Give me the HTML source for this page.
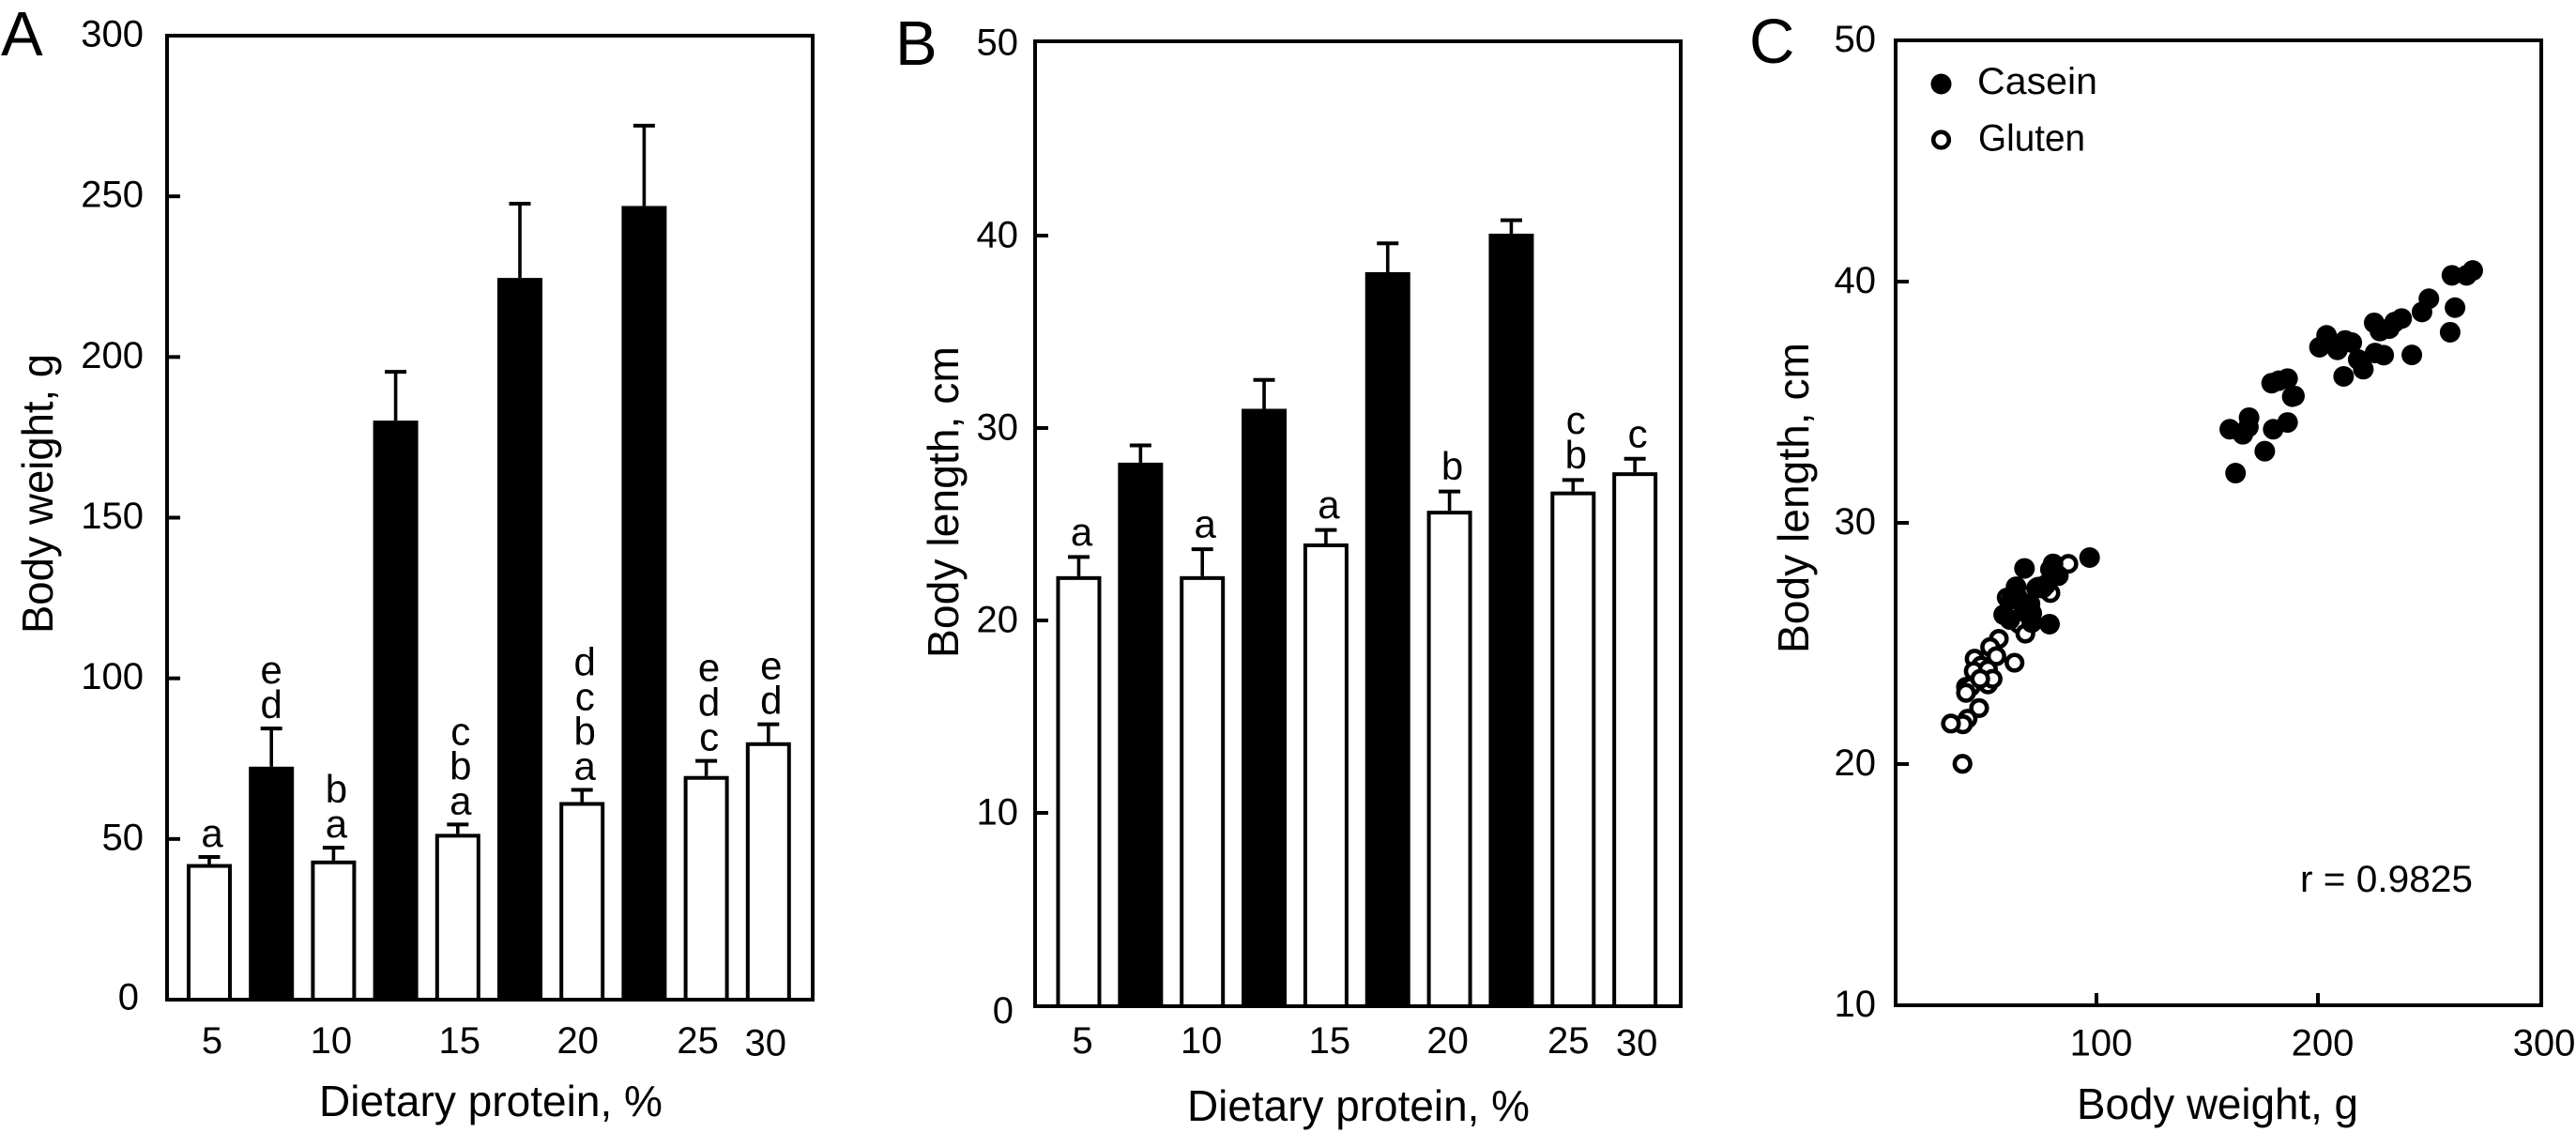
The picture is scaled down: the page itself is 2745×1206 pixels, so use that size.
<!DOCTYPE html>
<html lang="en">
<head>
<meta charset="utf-8">
<title>Body weight and body length by dietary protein</title>
<style>
  html, body { margin: 0; padding: 0; background: #fff; }
  svg { display: block; }
  text { font-family: "Liberation Sans", sans-serif; fill: #000; }
  .tick { font-size: 40px; }
  .title { font-size: 46px; }
  .panel { font-size: 67px; }
  .sig { font-size: 42px; text-anchor: middle; }
</style>
</head>
<body>
<svg id="figure" xmlns="http://www.w3.org/2000/svg" width="2745" height="1206" viewBox="0 0 2745 1206">
  <rect x="0" y="0" width="2745" height="1206" fill="#fff"/>

  <g id="panel-a">
    <text class="panel" x="1" y="59">A</text>
    <text class="title" transform="translate(56 675) rotate(-90)" textLength="298" lengthAdjust="spacingAndGlyphs">Body weight, g</text>
    <text class="title" x="340" y="1189" textLength="366" lengthAdjust="spacingAndGlyphs">Dietary protein, %</text>
  </g>

  <g id="panel-b">
    <text class="panel" x="954" y="69">B</text>
    <text class="title" transform="translate(1021 701) rotate(-90)" textLength="332" lengthAdjust="spacingAndGlyphs">Body length, cm</text>
    <text class="title" x="1265" y="1194" textLength="365" lengthAdjust="spacingAndGlyphs">Dietary protein, %</text>
  </g>

  <g id="panel-c">
    <text class="panel" x="1864" y="67">C</text>
    <text class="title" transform="translate(1927 696) rotate(-90)" textLength="331" lengthAdjust="spacingAndGlyphs">Body length, cm</text>
    <text class="title" x="2213" y="1192" textLength="300" lengthAdjust="spacingAndGlyphs">Body weight, g</text>
    <text class="tick" x="2451" y="950" textLength="184" lengthAdjust="spacingAndGlyphs">r = 0.9825</text>
    <circle cx="2068.5" cy="89.5" r="11" fill="#000"/>
    <text class="tick" x="2107" y="100" textLength="128" lengthAdjust="spacingAndGlyphs">Casein</text>
    <circle cx="2068.5" cy="149" r="8.3" fill="#fff" stroke="#000" stroke-width="4.6"/>
    <text class="tick" x="2108" y="160.5" textLength="114" lengthAdjust="spacingAndGlyphs">Gluten</text>
  </g>
</svg>

<script>
// ---- Shared bar-chart categories ----
const proteinLabels = ['5', '10', '15', '20', '25', '30'];
const glutenSlots = [0, 2, 4, 6, 8, 9];
const caseinSlots = [1, 3, 5, 7];

// ---- Panel A: body weight, g ----
const aYTicks = [0, 50, 100, 150, 200, 250, 300];
const aGlutenMeans = [42.2, 43.3, 51.6, 61.5, 69.6, 80.1];
const aGlutenErrTops = [44.4, 47.3, 54.5, 65.3, 74.3, 85.7];
const aCaseinMeans = [72.5, 180.2, 224.6, 247];
const aCaseinErrTops = [84.4, 195.4, 247.7, 272];
const aSigLetters = ['a', 'ba', 'cba', 'dcba', 'edc', 'ed'];
const aCaseinSigLetters = ['ed', '', '', ''];

// ---- Panel B: body length, cm ----
const bYTicks = [0, 10, 20, 30, 40, 50];
const bGlutenMeans = [22.3, 22.3, 24.0, 25.7, 26.7, 27.7];
const bGlutenErrTops = [23.3, 23.7, 24.7, 26.7, 27.3, 28.4];
const bCaseinMeans = [28.2, 31.0, 38.1, 40.1];
const bCaseinErrTops = [29.1, 32.5, 39.6, 40.8];
const bSigLetters = ['a', 'a', 'a', 'b', 'cb', 'c'];

// ---- Panel C: body length vs body weight ----
const cXTicks = [100, 200, 300];
const cYTicks = [10, 20, 30, 40, 50];
const caseinWeights = [162.8, 176.0, 160.2, 166.1, 168.9, 168.6, 179.8, 186.3, 179.1, 182.3, 186.3, 188.4, 189.4, 211.6, 220.5, 218.2, 225.8, 229.7, 200.7, 203.9, 208.8, 212.3, 215.3, 225.4, 228.0, 232.2, 234.6, 237.8, 242.4, 247.0, 250.1, 259.7, 261.9, 260.5, 267.1, 269.9, 96.9, 67.5, 80.4, 82.8, 79.2, 63.7, 75.7, 72.9, 61.6, 58.1, 60.9, 78.8, 70.8, 70.0, 70.8, 64.4, 67.2, 77.1];
const caseinLengths = [32.06, 32.97, 33.88, 33.67, 34.36, 33.97, 33.88, 34.16, 35.79, 35.89, 35.98, 35.23, 35.26, 36.07, 36.37, 36.77, 37.04, 36.95, 37.28, 37.77, 37.17, 37.56, 37.47, 38.29, 37.95, 38.05, 38.32, 38.47, 36.96, 38.74, 39.29, 37.90, 38.92, 40.26, 40.26, 40.46, 28.56, 28.11, 28.30, 27.81, 28.07, 27.35, 27.29, 27.29, 26.84, 26.19, 25.99, 25.80, 26.25, 26.64, 25.86, 26.90, 26.32, 27.43];
const glutenWeights = [87.3, 79.2, 73.6, 59.5, 65.1, 67.9, 55.9, 52.0, 54.8, 63.0, 45.0, 47.9, 44.6, 51.0, 51.0, 53.1, 41.1, 43.2, 41.1, 47.0, 41.8, 39.7, 34.3, 39.5, 47.5];
const glutenLengths = [28.3, 27.09, 27.35, 26.9, 25.8, 25.41, 25.19, 24.85, 24.47, 24.2, 24.37, 24.08, 23.85, 23.92, 23.3, 23.53, 23.2, 23.2, 22.95, 22.32, 21.88, 21.65, 21.68, 20.01, 23.53];

const SVG_NS = 'http://www.w3.org/2000/svg';

function shape(parent, tag, attrs) {
  const el = document.createElementNS(SVG_NS, tag);
  for (const key in attrs) el.setAttribute(key, attrs[key]);
  parent.appendChild(el);
  return el;
}

function drawFrame(parent, prefix, left, top, right, bottom) {
  const frame = shape(parent, 'rect', { x: left, y: top, width: right - left, height: bottom - top, fill: 'none', stroke: '#000', 'stroke-width': 4 });
  
  
}

function drawYAxis(parent, prefix, ticks, yScale, left, labelRight, labelNudge, zeroNudgeX, zeroNudgeY) {
  ticks.forEach(function (v, i) {
    const y = yScale(v);
    if (i > 0 && i < ticks.length - 1) {
      const mark = shape(parent, 'line', { x1: left, x2: left + 14, y1: y, y2: y, stroke: '#000', 'stroke-width': 4 });
      
      
    }
    const isZero = v === 0;
    const label = shape(parent, 'text', {
      class: 'tick', 'text-anchor': 'end',
      x: labelRight + (isZero ? zeroNudgeX : 0),
      y: y + labelNudge + (isZero ? zeroNudgeY : 0)
    });
    
    
    label.textContent = String(v);
  });
}

function drawBar(parent, name, cx, top, base, isCasein, errTop) {
  const err = shape(parent, 'g', {});
  
  
  shape(err, 'line', { x1: cx, x2: cx, y1: top, y2: errTop, stroke: '#000', 'stroke-width': 3.6 });
  shape(err, 'line', { x1: cx - 11.5, x2: cx + 11.5, y1: errTop, y2: errTop, stroke: '#000', 'stroke-width': 4 });
  let bar;
  if (isCasein) {
    bar = shape(parent, 'rect', { x: cx - 24, y: top, width: 48, height: base + 2 - top, fill: '#000' });
  } else {
    bar = shape(parent, 'rect', { x: cx - 22, y: top + 2, width: 44, height: base - top - 2, fill: '#fff', stroke: '#000', 'stroke-width': 4 });
  }
  
  
}

function drawSigLetters(parent, name, cx, capY, letters, offset) {
  // Strings list letters from top to bottom of the printed stack.
  const n = letters.length;
  for (let k = 0; k < n; k++) {
    const t = shape(parent, 'text', { class: 'sig', x: cx + 3, y: capY - offset - 37 * (n - 1 - k) });
    
    
    t.textContent = letters[k];
  }
}

function drawBarPanel(cfg) {
  const g = document.getElementById(cfg.id);
  const slotX = function (slot) { return cfg.x0 + cfg.step * slot; };

  cfg.glutenMeans.forEach(function (v, i) {
    const cx = slotX(glutenSlots[i]);
    const errY = cfg.y(cfg.glutenErr[i]);
    drawBar(g, cfg.prefix + '-bar-gluten-' + proteinLabels[i], cx, cfg.y(v), cfg.base, false, errY);
    drawSigLetters(g, cfg.prefix + '-gluten-' + proteinLabels[i], cx, errY, cfg.glutenLetters[i], cfg.letterOffset);
  });
  cfg.caseinMeans.forEach(function (v, i) {
    const cx = slotX(caseinSlots[i]);
    const errY = cfg.y(cfg.caseinErr[i]);
    drawBar(g, cfg.prefix + '-bar-casein-' + proteinLabels[i], cx, cfg.y(v), cfg.base, true, errY);
    if (cfg.caseinLetters) {
      drawSigLetters(g, cfg.prefix + '-casein-' + proteinLabels[i], cx - 3, errY, cfg.caseinLetters[i], cfg.letterOffset);
    }
  });

  drawFrame(g, cfg.prefix, cfg.left, cfg.top, cfg.right, cfg.bottom);
  drawYAxis(g, cfg.prefix, cfg.yTicks, cfg.y, cfg.left, cfg.labelRight, cfg.labelNudge, -5, cfg.zeroNudge);

  proteinLabels.forEach(function (lab, i) {
    const t = shape(g, 'text', {
      class: 'tick', 'text-anchor': 'middle',
      x: slotX(glutenSlots[i]) + cfg.xLabelNudge[i],
      y: i === 5 ? 1124.5 : 1122
    });
    
    
    t.textContent = lab;
  });
}

drawBarPanel({
  id: 'panel-a', prefix: 'panel-a',
  left: 178, right: 866, top: 38, bottom: 1065, base: 1065,
  x0: 223, step: 66.2,
  y: function (v) { return 1065 - v * 1027 / 300; },
  yTicks: aYTicks, labelRight: 153, labelNudge: 11.5, zeroNudge: -1,
  glutenMeans: aGlutenMeans, glutenErr: aGlutenErrTops, glutenLetters: aSigLetters,
  caseinMeans: aCaseinMeans, caseinErr: aCaseinErrTops, caseinLetters: aCaseinSigLetters,
  letterOffset: 11, xLabelNudge: [3, -2.5, 2, -4.5, -9, -3]
});

drawBarPanel({
  id: 'panel-b', prefix: 'panel-b',
  left: 1103, right: 1791, top: 44, bottom: 1072, base: 1072,
  x0: 1149.5, step: 65.85,
  y: function (v) { return 1071 - v * 20.5; },
  yTicks: bYTicks, labelRight: 1085, labelNudge: 12.5, zeroNudge: 6.5,
  glutenMeans: bGlutenMeans, glutenErr: bGlutenErrTops, glutenLetters: bSigLetters,
  caseinMeans: bCaseinMeans, caseinErr: bCaseinErrTops, caseinLetters: null,
  letterOffset: 12.5, xLabelNudge: [4, -1, 4, -2, -5, 2]
});

(function drawScatter() {
  const g = document.getElementById('panel-c');
  const x = function (v) { return 2470 + (v - 200) * 2.36; };
  const y = function (v) { return 43 + (50 - v) * 25.7; };

  glutenWeights.forEach(function (w, i) {
    const p = shape(g, 'circle', { cx: x(w), cy: y(glutenLengths[i]), r: 8.3, fill: '#fff', stroke: '#000', 'stroke-width': 4.6 });
    
    
  });
  caseinWeights.forEach(function (w, i) {
    const p = shape(g, 'circle', { cx: x(w), cy: y(caseinLengths[i]), r: 11, fill: '#000' });
    
    
  });

  drawFrame(g, 'panel-c', 2020, 43, 2708, 1071);
  drawYAxis(g, 'panel-c', cYTicks, y, 2020, 1999, 12, 0, 0);

  cXTicks.forEach(function (v, i) {
    if (i < cXTicks.length - 1) {
      const mark = shape(g, 'line', { x1: x(v), x2: x(v), y1: 1071, y2: 1058, stroke: '#000', 'stroke-width': 4 });
      
      
    }
    const t = shape(g, 'text', { class: 'tick', 'text-anchor': 'middle', x: x(v) + 5, y: 1124.5 });
    
    
    t.textContent = String(v);
  });
})();
</script>
</body>
</html>
